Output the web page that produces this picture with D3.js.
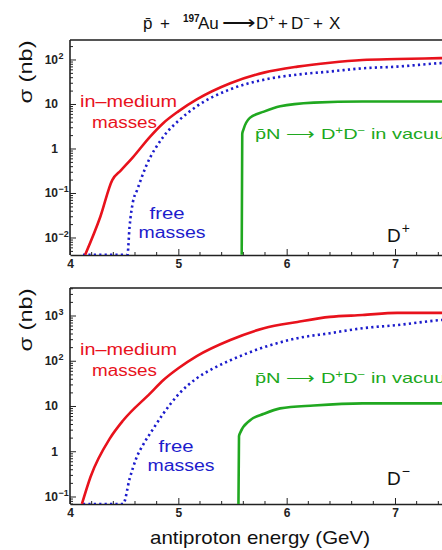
<!DOCTYPE html>
<html><head><meta charset="utf-8">
<script src="https://cdn.jsdelivr.net/npm/d3@7"></script>
<style>
body{margin:0;background:#fff}
svg{display:block}
text{font-family:"Liberation Sans",Arial,Helvetica,sans-serif}
</style>
</head><body>
<svg id="chart" width="442" height="550"></svg>
<script>
// ---------- data (E in GeV, sigma in nb) ----------
const energyTicks = [4, 5, 6, 7];
const energyDomain = [4, 8];

const dPlusInMedium = [[4.14,0.0042],[4.28,0.03],[4.39,0.2],[4.47,0.33],[4.58,0.65],[4.74,1.9],[4.86,3.8],[5.0,7],[5.17,13],[5.48,30],[5.79,52],[6.1,71],[6.4,87],[6.7,100],[7.02,105],[7.42,110],[8.0,118]];
const dPlusFree = [[4.12,0.0042],[4.53,0.0042],[4.55,0.018],[4.58,0.063],[4.62,0.12],[4.70,0.4],[4.86,1.86],[5.01,4.5],[5.17,9.1],[5.48,22],[5.79,36],[6.1,47],[6.4,55],[6.7,65],[7.02,71],[7.42,85],[8.0,95]];
const dPlusVacuum = [[5.585,0.0042],[5.59,2.2],[5.6,2.7],[5.66,5],[5.79,6.9],[5.94,9.1],[6.25,11],[6.7,11.7],[7.42,11.7],[8.0,11.5]];

const dMinusInMedium = [[4.11,0.07],[4.19,0.28],[4.37,2.0],[4.49,4.9],[4.74,19.5],[4.86,38],[5.0,70],[5.17,130],[5.48,295],[5.79,537],[6.1,740],[6.4,955],[6.7,1050],[7.02,1175],[7.42,1175],[8.0,1200]];
const dMinusFree = [[4.12,0.07],[4.49,0.07],[4.55,0.25],[4.61,0.7],[4.68,1.5],[4.76,3.0],[4.86,6.9],[5.01,19.5],[5.17,42],[5.32,69],[5.48,105],[5.79,204],[6.1,324],[6.4,417],[6.7,537],[7.02,631],[7.42,813],[8.0,950]];
const dMinusVacuum = [[5.555,0.07],[5.56,2.2],[5.57,2.6],[5.66,4.9],[5.79,6.9],[5.94,9.1],[6.25,10.5],[6.7,11.7],[7.42,11.7],[8.0,11.5]];

const dPlusYTicks = [-2, -1, 0, 1, 2];     // log10 exponents
const dMinusYTicks = [-1, 0, 1, 2, 3];
const dPlusYDomain = [Math.pow(10,-2.382), Math.pow(10,2.449)];
const dMinusYDomain = [Math.pow(10,-1.155), Math.pow(10,3.619)];

const colors = {red:"#e8121c", blue:"#1c1ccc", green:"#20a820", axis:"#222"};

// ---------- drawing ----------
const svg = d3.select("#chart");
const xLeft = 70, xRight = 70 + 4*108.33;
const x = d3.scaleLinear().domain(energyDomain).range([xLeft, xRight]);

function rich(sel, parts){
  let cur = 0;
  parts.forEach(p=>{
    const ts = sel.append("tspan").text(p.t);
    const target = p.dy || 0;
    if (target !== cur){ ts.attr("dy", target - cur); cur = target; }
    if (p.size) ts.attr("font-size", p.size);
    if (p.dx) ts.attr("dx", p.dx);
  });
}

function panel(cfg){
  const y = d3.scaleLog().domain(cfg.yDomain).range([cfg.bottom, cfg.top]).clamp(true);
  const g = svg.append("g");
  const clipId = "clip" + cfg.id;
  svg.append("clipPath").attr("id", clipId).append("rect")
    .attr("x", xLeft).attr("y", cfg.top - 2).attr("width", xRight - xLeft).attr("height", cfg.bottom - cfg.top + 2);

  // frame
  g.append("line").attr("x1", xLeft).attr("x2", xRight).attr("y1", cfg.top).attr("y2", cfg.top)
    .attr("stroke", "#555").attr("stroke-width", 2);
  g.append("line").attr("x1", xLeft).attr("x2", xLeft).attr("y1", cfg.top).attr("y2", cfg.bottom)
    .attr("stroke", colors.axis).attr("stroke-width", 1.6);

  // y ticks
  const [lo, hi] = cfg.yDomain;
  for (let k = Math.floor(Math.log10(lo)); k <= Math.ceil(Math.log10(hi)); k++){
    for (let m = 1; m <= 9; m++){
      const v = m * Math.pow(10, k);
      if (v < lo || v > hi) continue;
      const len = m === 1 ? 6 : 3;
      g.append("line").attr("x1", xLeft).attr("x2", xLeft + len)
        .attr("y1", y(v)).attr("y2", y(v)).attr("stroke", colors.axis).attr("stroke-width", 1);
    }
  }
  cfg.yTicks.forEach(e=>{
    const yy = y(Math.pow(10, e));
    const base = (e === 0) ? "1" : "10";
    g.append("text").attr("x", 58).attr("y", yy + 4).attr("text-anchor", "end")
      .attr("font-size", 12).attr("font-weight", "bold").attr("fill", "#222").text(base);
    if (e !== 0 && e !== 1){
      g.append("text").attr("x", 58.5).attr("y", yy - 1).attr("text-anchor", "start")
        .attr("font-size", 9).attr("font-weight", "bold").attr("fill", "#222")
        .text(e < 0 ? "\u2212" + (-e) : String(e));
    }
  });

  // x axis
  const xAxis = d3.axisBottom(x).tickValues(energyTicks).tickSize(0).tickPadding(0).tickFormat(d3.format("d"));
  const ax = g.append("g").attr("transform", `translate(0,${cfg.bottom})`).call(xAxis);
  ax.select(".domain").attr("stroke", colors.axis).attr("stroke-width", 1.6);
  ax.selectAll(".tick line").attr("y2", -6).attr("stroke", colors.axis);
  ax.selectAll(".tick text").attr("y", 13).attr("dy", 0).attr("font-size", 12).attr("font-weight", "bold").attr("fill", "#222")
    .style("font-family", '"Liberation Sans",Arial,sans-serif');
  const minor = d3.range(4.2, 8.0, 0.2).filter(v => Math.abs(v - Math.round(v)) > 1e-6);
  g.selectAll(null).data(minor).enter().append("line")
    .attr("x1", d=>x(d)).attr("x2", d=>x(d)).attr("y1", cfg.bottom).attr("y2", cfg.bottom - 3)
    .attr("stroke", colors.axis).attr("stroke-width", 1);

  // curves
  const line = d3.line().x(d=>x(d[0])).y(d=>y(d[1])).curve(d3.curveMonotoneX);
  const cg = g.append("g").attr("clip-path", `url(#${clipId})`);
  cg.append("path").datum(cfg.free).attr("d", line).attr("fill", "none")
    .attr("stroke", colors.blue).attr("stroke-width", 2.6).attr("stroke-dasharray", "2.2,3.2");
  cg.append("path").datum(cfg.vacuum).attr("d", line).attr("fill", "none")
    .attr("stroke", colors.green).attr("stroke-width", 2.6);
  cg.append("path").datum(cfg.medium).attr("d", line).attr("fill", "none")
    .attr("stroke", colors.red).attr("stroke-width", 2.6);

  // labels
  const t = cfg.top;
  g.append("text").attr("x", 128.5).attr("y", t + cfg.offMed).attr("text-anchor", "middle")
    .attr("font-size", 16).attr("fill", colors.red).attr("textLength", 97).attr("lengthAdjust", "spacingAndGlyphs")
    .text("in\u2013medium");
  g.append("text").attr("x", 124.5).attr("y", t + cfg.offMed + 21).attr("text-anchor", "middle")
    .attr("font-size", 16).attr("fill", colors.red).attr("textLength", 65).attr("lengthAdjust", "spacingAndGlyphs")
    .text("masses");
  g.append("text").attr("x", cfg.freeX).attr("y", t + cfg.offFree).attr("text-anchor", "middle")
    .attr("font-size", 16).attr("fill", colors.blue).attr("textLength", 35).attr("lengthAdjust", "spacingAndGlyphs")
    .text("free");
  g.append("text").attr("x", cfg.freeX + 5).attr("y", t + cfg.offFree + 19).attr("text-anchor", "middle")
    .attr("font-size", 16).attr("fill", colors.blue).attr("textLength", 67).attr("lengthAdjust", "spacingAndGlyphs")
    .text("masses");

  const gt = g.append("text").attr("x", 255).attr("y", t + cfg.offVac).attr("font-size", 15).attr("fill", colors.green)
    .attr("textLength", 207).attr("lengthAdjust", "spacingAndGlyphs");
  rich(gt, [{t:"p\u0304N "}, {t:"\u27F6"}, {t:" D"}, {t:"+", dy:-5, size:10}, {t:"D", dy:0}, {t:"\u2212", dy:-5, size:10}, {t:" in vacuum", dy:0}]);

  const dl = g.append("text").attr("x", 387).attr("y", t + cfg.offD).attr("font-size", 19).attr("fill", "#111");
  rich(dl, [{t:"D"}, {t:cfg.dSign, dy:-9, size:14, dx:1}]);

  // y title
  svg.append("text").attr("transform", `translate(32,${cfg.top + 32}) rotate(-90)`)
    .attr("text-anchor", "middle").attr("font-size", 18).attr("fill", "#111")
    .attr("textLength", 63).attr("lengthAdjust", "spacingAndGlyphs").text("\u03C3 (nb)");
}

panel({id:"P", top:40, bottom:255, yDomain:dPlusYDomain, yTicks:dPlusYTicks,
  medium:dPlusInMedium, free:dPlusFree, vacuum:dPlusVacuum,
  offMed:67, offFree:179, freeX:167, offVac:99, offD:202, dSign:"+"});
panel({id:"M", top:288, bottom:504, yDomain:dMinusYDomain, yTicks:dMinusYTicks,
  medium:dMinusInMedium, free:dMinusFree, vacuum:dMinusVacuum,
  offMed:67, offFree:164, freeX:176, offVac:95, offD:197, dSign:"\u2212"});

// title (pieces placed individually)
const titleParts = [
  {t:"p\u0304", x:143}, {t:"+", x:160}, {t:"197", x:183, sup:true}, {t:"Au", x:198},
  {t:"\u27F6", x:222, w:33}, {t:"D", x:256}, {t:"+", x:268.5, sup:true}, {t:"+", x:278},
  {t:"D", x:291}, {t:"\u2212", x:303.5, sup:true}, {t:"+", x:313}, {t:"X", x:329}
];
const tg = svg.append("g");
titleParts.forEach(p=>{
  const te = tg.append("text").attr("x", p.x).attr("y", p.sup ? 22 : 29)
    .attr("font-size", p.sup ? (p.t === "197" ? 10 : 11) : 17).attr("fill", "#111")
    .attr("font-weight", p.t === "197" ? "bold" : "normal").text(p.t);
  if (p.w) te.attr("textLength", p.w).attr("lengthAdjust", "spacingAndGlyphs");
});

// x title
svg.append("text").attr("x", 260).attr("y", 544).attr("text-anchor", "middle")
  .attr("font-size", 19).attr("fill", "#111").attr("textLength", 220).attr("lengthAdjust", "spacingAndGlyphs")
  .text("antiproton energy (GeV)");
</script>
</body></html>
